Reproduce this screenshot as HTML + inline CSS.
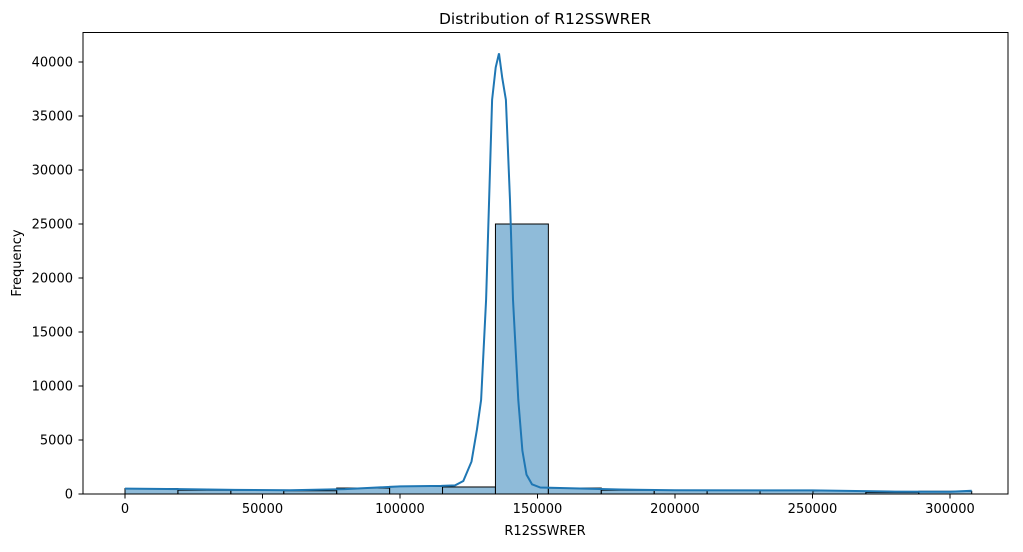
<!DOCTYPE html>
<html><head><meta charset="utf-8"><style>
body{margin:0;background:#fff;}
svg text{font-family:"DejaVu Sans","Liberation Sans",sans-serif;fill:#000;}
</style></head><body>
<svg id="chart" width="1023" height="547" xmlns="http://www.w3.org/2000/svg">
<text x="545" y="24" font-size="15.5" text-anchor="middle">Distribution of R12SSWRER</text>
<g id="bars"></g>
<path id="kde" fill="none" stroke="#1f77b4" stroke-width="2"/>
<g id="axes"></g>
<rect x="83" y="32.5" width="925" height="461.5" fill="none" stroke="#000" stroke-width="1"/>
<text x="545" y="535" font-size="13" text-anchor="middle">R12SSWRER</text>
<text x="21" y="263" font-size="13" text-anchor="middle" transform="rotate(-90 21 263)">Frequency</text>
</svg>
<script>
const binCounts=[500,350,350,300,550,700,650,25000,550,350,350,350,350,280,150,250];
const binMax=307900;
const kdeX=[0,20000,40000,60000,80000,100000,115000,120000,123000,126000,128000,129500,131300,132400,133500,134800,136000,137200,138500,140000,141100,143000,144500,146000,148000,151000,160000,180000,200000,250000,280000,300000,307900];
const kdeY=[500,450,380,350,450,700,750,800,1200,3000,6000,8700,18000,27200,36500,39500,40800,38500,36500,27200,18000,8700,4000,1800,900,600,550,420,350,330,220,200,300];
const xTicks=[0,50000,100000,150000,200000,250000,300000];
const yTicks=[0,5000,10000,15000,20000,25000,30000,35000,40000];
const sx=v=>125+v*0.00275;
const sy=v=>494-v*0.0108;
const NS="http://www.w3.org/2000/svg";
const bars=document.getElementById('bars');
const bw=binMax/binCounts.length;
binCounts.forEach((c,i)=>{
 const r=document.createElementNS(NS,'rect');
 const x0=sx(i*bw),x1=sx((i+1)*bw);
 r.setAttribute('x',x0);r.setAttribute('width',x1-x0);
 r.setAttribute('y',sy(c));r.setAttribute('height',494-sy(c));
 r.setAttribute('fill','rgba(31,119,180,0.5)');r.setAttribute('stroke','#000');r.setAttribute('stroke-width','1');
 
 
 bars.appendChild(r);
});
let d='';
kdeX.forEach((x,i)=>{d+=(i?'L':'M')+sx(x).toFixed(1)+' '+sy(kdeY[i]).toFixed(1);});
document.getElementById('kde').setAttribute('d',d);
const ax=document.getElementById('axes');
xTicks.forEach(t=>{
 const l=document.createElementNS(NS,'line');
 l.setAttribute('x1',sx(t));l.setAttribute('x2',sx(t));l.setAttribute('y1',494);l.setAttribute('y2',498.5);l.setAttribute('stroke','#000');
 
 
 ax.appendChild(l);
 const s=document.createElementNS(NS,'text');
 s.setAttribute('x',sx(t));s.setAttribute('y',513);s.setAttribute('font-size','13');s.setAttribute('text-anchor','middle');
 s.textContent=t;
 
 
 ax.appendChild(s);
});
yTicks.forEach(t=>{
 const l=document.createElementNS(NS,'line');
 l.setAttribute('x1',78.5);l.setAttribute('x2',83);l.setAttribute('y1',sy(t));l.setAttribute('y2',sy(t));l.setAttribute('stroke','#000');
 
 
 ax.appendChild(l);
 const s=document.createElementNS(NS,'text');
 s.setAttribute('x',73);s.setAttribute('y',sy(t)+4.5);s.setAttribute('font-size','13');s.setAttribute('text-anchor','end');
 s.textContent=t;
 
 
 ax.appendChild(s);
});
</script>
</body></html>
